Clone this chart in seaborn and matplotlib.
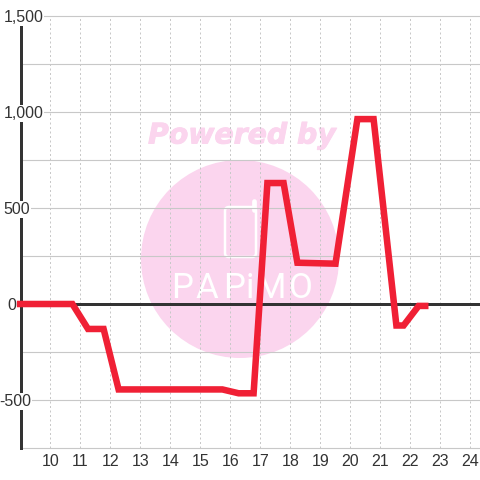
import matplotlib
matplotlib.use("Agg")
import matplotlib.pyplot as plt
from matplotlib.patches import Circle, FancyBboxPatch
from matplotlib.transforms import blended_transform_factory
import matplotlib.patheffects as pe
import seaborn as sns
import pandas as pd

hours = [8.88, 10.73, 11.25, 11.77, 12.27, 15.73, 16.27, 16.77, 17.23, 17.77, 18.23, 19.5, 20.23, 20.77, 21.53, 21.77, 22.27, 22.6]
values = [0, 0, -130, -130, -445, -445, -465, -465, 630, 630, 215, 210, 963, 963, -112, -112, -10, -10]
x_ticks = list(range(10, 25))
y_major = [-500, 0, 500, 1000, 1500]
y_minor = [-750, -250, 250, 750, 1250]
y_labels = ["-500", "0", "500", "1,000", "1,500"]
label_right_px = [31.5, 16.5, 30.5, 43.5, 43.5]
logo_letters = ["P", "A", "P", "i", "M", "O"]
logo_x = [182, 206.5, 234, 249.5, 270, 300.5]
WM = "#fbd5ee"
INK = "#333333"
GRID = "#c8c8c8"

sns.set_theme(style="white")
plt.rcParams["font.family"] = ["Liberation Sans", "DejaVu Sans"]
fig = plt.figure(figsize=(4.8, 4.8), dpi=100)
ax = fig.add_axes([20.5/480, 32/480, 459.5/480, 432/480])
ax.set_xlim(9, 24.317)
ax.set_ylim(-750, 1500)
ax.patch.set_alpha(0)

# watermark, placed in figure pixels behind the chart axes
ov = fig.add_axes([0, 0, 1, 1], zorder=-1)
ov.set_xlim(0, 480); ov.set_ylim(480, 0); ov.axis("off")
ov.add_patch(Circle((240, 259), 99, color=WM, lw=0))
ov.text(242, 135.5, "Powered by", family="DejaVu Sans", weight="bold", style="italic",
        fontsize=20.4, color=WM, ha="center", va="center",
        path_effects=[pe.withStroke(linewidth=0.7, foreground=WM)])
ov.add_patch(FancyBboxPatch((225, 207), 31, 50, boxstyle="round,pad=0,rounding_size=4",
                            fc="none", ec="white", lw=1.8))
ov.plot([253.5, 253.5], [201, 210], color="white", lw=3.4, solid_capstyle="round")
for letter, lx in zip(logo_letters, logo_x):
    ov.text(lx, 289, letter, family=["Liberation Sans Narrow", "Roboto"], fontsize=25,
            color="white", ha="center", va="center")

for v in y_major + y_minor:
    ax.axhline(v, color=GRID, lw=0.8, zorder=1, clip_on=False)
for t in x_ticks:
    ax.axvline(t, color=GRID, lw=0.72, ls=(0, (2, 2.5)), zorder=1)
ax.axhline(0, color=INK, lw=2.16, zorder=2)

df = pd.DataFrame({"hour": hours, "value": values})
sns.lineplot(data=df, x="hour", y="value", ax=ax, color="#f02035", lw=4.7, zorder=3,
             errorbar=None, sort=False, estimator=None, clip_on=False,
             solid_joinstyle="miter", solid_capstyle="butt")
ax.set_xlabel(""); ax.set_ylabel("")

for s in ["top", "right", "bottom"]:
    ax.spines[s].set_visible(False)
ax.spines["left"].set_color(INK)
ax.spines["left"].set_linewidth(2.16)
ax.set_xticks(x_ticks)
ax.set_xticklabels([str(t) for t in x_ticks])
ax.set_yticks(y_major)
ax.set_yticklabels([])
ax.tick_params(length=0, labelsize=11.5, labelcolor=INK, pad=4)

tr = blended_transform_factory(fig.dpi_scale_trans, ax.transData)
for v, l, rx in zip(y_major, y_labels, label_right_px):
    ax.text(rx / 100, v - 8, l, transform=tr, fontsize=11.5, color=INK, ha="right", va="center",
            zorder=2.8, clip_on=False, bbox=dict(fc="white", ec="none", pad=0.6))
fig.savefig("out.png", dpi=100)
